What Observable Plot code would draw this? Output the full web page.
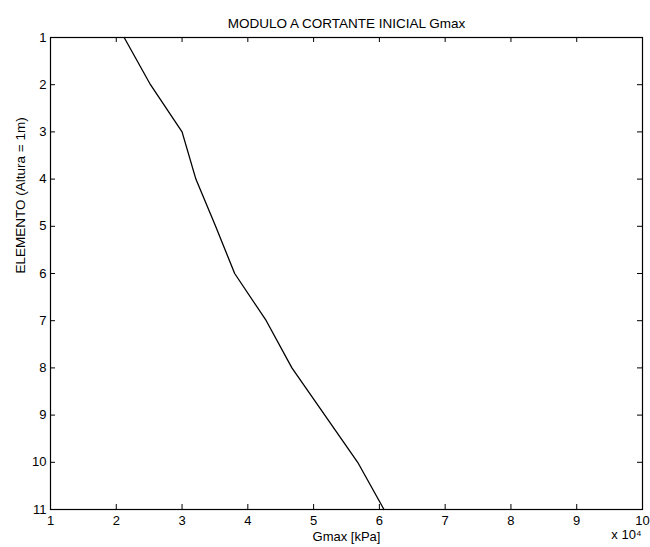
<!DOCTYPE html>
<html>
<head>
<meta charset="utf-8">
<script src="https://cdn.jsdelivr.net/npm/d3@7"></script>
<script src="https://cdn.jsdelivr.net/npm/@observablehq/plot@0.6"></script>
<style>
  body { margin: 0; background: #fff; }
  #chart svg { display: block; }
  #chart svg g[aria-label$="tick label"] { font-size: 13px; }
</style>
</head>
<body>
<div id="chart"></div>
<script>
// Data
const elemento = [1, 2, 3, 4, 5, 6, 7, 8, 9, 10, 11];
const gmax = [2.12, 2.52, 3.0, 3.21, 3.51, 3.8, 4.28, 4.67, 5.17, 5.67, 6.07]; // x 10^4 kPa
const xTicks = [1, 2, 3, 4, 5, 6, 7, 8, 9, 10];
const yTicks = [1, 2, 3, 4, 5, 6, 7, 8, 9, 10, 11];
const titleText = "MODULO A CORTANTE INICIAL Gmax";
const xLabel = "Gmax [kPa]";
const xExponent = "x 10\u2074";
const yLabel = "ELEMENTO (Altura = 1m)";

const data = elemento.map((e, i) => ({elemento: e, gmax: gmax[i]}));

const W = 650, H = 547;
const mL = 50, mR = 8, mT = 37, mB = 38;
const innerW = W - mL - mR, innerH = H - mT - mB;
const tickLen = 5;

const chart = Plot.plot({
  width: W,
  height: H,
  marginLeft: mL,
  marginRight: mR,
  marginTop: mT,
  marginBottom: mB,
  style: {fontFamily: "'Liberation Sans', Arial, sans-serif", fontSize: "12px", background: "white", color: "black"},
  x: {domain: [1, 10], ticks: xTicks, label: null},
  y: {domain: [1, 11], reverse: true, ticks: yTicks, label: null},
  marks: [
    Plot.axisX(xTicks, {anchor: "bottom", tickSize: 0, tickPadding: 6, label: null}),
    Plot.axisY(yTicks, {anchor: "left", tickSize: 0, tickPadding: 4, label: null}),
    // inward ticks (MATLAB style) on all four sides
    Plot.tickX(xTicks, {x: d => d, insetTop: innerH - tickLen, stroke: "black"}),
    Plot.tickX(xTicks, {x: d => d, insetBottom: innerH - tickLen, stroke: "black"}),
    Plot.tickY(yTicks, {y: d => d, insetRight: innerW - tickLen, stroke: "black"}),
    Plot.tickY(yTicks, {y: d => d, insetLeft: innerW - tickLen, stroke: "black"}),
    Plot.frame({stroke: "black", strokeWidth: 1.2}),
    Plot.line(data, {x: "gmax", y: "elemento", stroke: "black", strokeWidth: 1.3}),
    Plot.text([titleText], {frameAnchor: "top", dy: -19, fontSize: 13.5, fill: "black"}),
    Plot.text([xLabel], {frameAnchor: "bottom", dy: 31, fontSize: 13, fill: "black"}),
    Plot.text([xExponent], {frameAnchor: "bottom-right", textAnchor: "end", dx: -1, dy: 29, fontSize: 13, fill: "black"}),
    Plot.text([yLabel], {frameAnchor: "left", rotate: -90, dx: -30, fontSize: 13.5, fill: "black"})
  ]
});

document.getElementById("chart").appendChild(chart);
</script>
</body>
</html>
